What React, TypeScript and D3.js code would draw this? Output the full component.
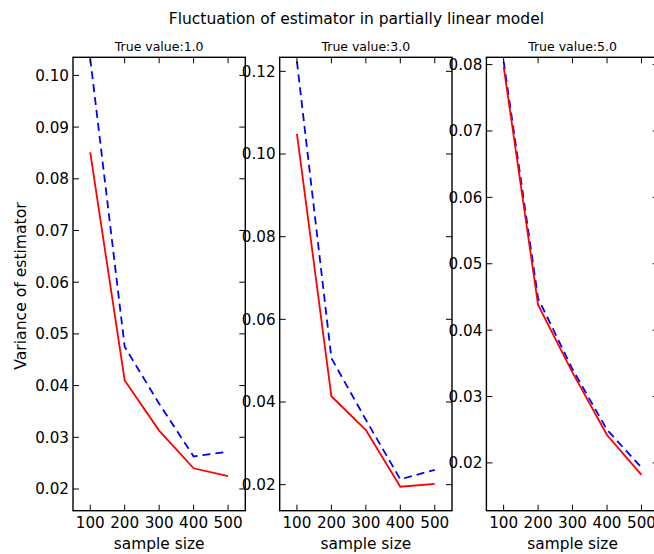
import * as d3 from 'd3';
import React, { useEffect, useRef } from 'react';

const sampleSizes = [100, 200, 300, 400, 500];
const xTicks = [100, 200, 300, 400, 500];

const titles = ['True value:1.0', 'True value:3.0', 'True value:5.0'];

// dashed blue series, solid red series, per panel
const blue1 = [0.1033, 0.0475, 0.0365, 0.0263, 0.0272];
const red1 = [0.0851, 0.041, 0.0313, 0.024, 0.0225];
const blue2 = [0.1224, 0.0506, 0.0357, 0.0213, 0.0236];
const red2 = [0.1049, 0.0414, 0.0332, 0.0195, 0.0202];
const blue3 = [0.0805, 0.0448, 0.0341, 0.025, 0.0193];
const red3 = [0.0797, 0.0438, 0.0336, 0.0242, 0.0182];

const yTicks1 = [0.02, 0.03, 0.04, 0.05, 0.06, 0.07, 0.08, 0.09, 0.1];
const yTicks2 = [0.02, 0.04, 0.06, 0.08, 0.1, 0.12];
const yTicks3 = [0.02, 0.03, 0.04, 0.05, 0.06, 0.07, 0.08];

const yLimits = [
  [0.0158, 0.1035],
  [0.0137, 0.1234],
  [0.0128, 0.0811],
];

const W = 654;
const H = 554;
const FONT = 'DejaVu Sans, sans-serif';

const App = () => {
  const ref = useRef(null);

  useEffect(() => {
    const svg = d3.select(ref.current);
    svg.selectAll('*').remove();

    const panels = [
      { blue: blue1, red: red1, ticks: yTicks1 },
      { blue: blue2, red: red2, ticks: yTicks2 },
      { blue: blue3, red: red3, ticks: yTicks3 },
    ];

    const top = 57.3;
    const bottom = 510.7;
    const pw = 172.3;
    const step = 206.7;
    const left0 = 73;
    const tl = 6;

    svg.append('rect').attr('width', W).attr('height', H).attr('fill', 'white');

    svg.append('text')
      .attr('x', 356.4)
      .attr('y', 24)
      .attr('text-anchor', 'middle')
      .style('font-family', FONT)
      .style('font-size', '15.5px')
      .text('Fluctuation of estimator in partially linear model');

    panels.forEach((p, i) => {
      const left = left0 + i * step;
      const right = left + pw;
      const x = d3.scaleLinear().domain([50, 550]).range([left, right]);
      const y = d3.scaleLinear().domain(yLimits[i]).range([bottom, top]);

      const g = svg.append('g');
      g.append('rect')
        .attr('x', left).attr('y', top)
        .attr('width', pw).attr('height', bottom - top)
        .attr('fill', 'white');

      const clipId = `clip${i}`;
      g.append('clipPath').attr('id', clipId)
        .append('rect')
        .attr('x', left).attr('y', top)
        .attr('width', pw).attr('height', bottom - top);

      const line = d3.line()
        .x((d, k) => x(sampleSizes[k]))
        .y(d => y(d));

      const plot = g.append('g').attr('clip-path', `url(#${clipId})`);
      plot.append('path')
        .attr('d', line(p.blue))
        .attr('fill', 'none')
        .attr('stroke', '#0000ff')
        .attr('stroke-width', 1.8)
        .attr('stroke-dasharray', '8,5');
      plot.append('path')
        .attr('d', line(p.red))
        .attr('fill', 'none')
        .attr('stroke', '#ff0000')
        .attr('stroke-width', 1.8);

      // ticks on all four sides, pointing inward
      xTicks.forEach(t => {
        g.append('line').attr('x1', x(t)).attr('x2', x(t))
          .attr('y1', bottom).attr('y2', bottom - tl)
          .attr('stroke', 'black').attr('stroke-width', 1);
        g.append('line').attr('x1', x(t)).attr('x2', x(t))
          .attr('y1', top).attr('y2', top + tl)
          .attr('stroke', 'black').attr('stroke-width', 1);
        g.append('text')
          .attr('x', x(t)).attr('y', bottom + 17)
          .attr('text-anchor', 'middle')
          .style('font-family', FONT)
          .style('font-size', '15.2px')
          .text(t);
      });
      p.ticks.forEach(t => {
        g.append('line').attr('x1', left).attr('x2', left + tl)
          .attr('y1', y(t)).attr('y2', y(t))
          .attr('stroke', 'black').attr('stroke-width', 1);
        g.append('line').attr('x1', right).attr('x2', right - tl)
          .attr('y1', y(t)).attr('y2', y(t))
          .attr('stroke', 'black').attr('stroke-width', 1);
        g.append('text')
          .attr('x', left - 4).attr('y', y(t))
          .attr('dy', '0.36em')
          .attr('text-anchor', 'end')
          .style('font-family', FONT)
          .style('font-size', '15.2px')
          .text(d3.format('.2f')(t));
      });

      g.append('rect')
        .attr('x', left).attr('y', top)
        .attr('width', pw).attr('height', bottom - top)
        .attr('fill', 'none')
        .attr('stroke', 'black')
        .attr('stroke-width', 1.4);

      g.append('text')
        .attr('x', (left + right) / 2)
        .attr('y', top - 6)
        .attr('text-anchor', 'middle')
        .style('font-family', FONT)
        .style('font-size', '12.5px')
        .text(titles[i]);

      g.append('text')
        .attr('x', (left + right) / 2)
        .attr('y', 549)
        .attr('text-anchor', 'middle')
        .style('font-family', FONT)
        .style('font-size', '15.4px')
        .text('sample size');
    });

    svg.append('text')
      .attr('transform', `translate(26,286) rotate(-90)`)
      .attr('text-anchor', 'middle')
      .style('font-family', FONT)
      .style('font-size', '15.6px')
      .text('Variance of estimator');
  }, []);

  return (
    <svg ref={ref} width={W} height={H} style={{ position: 'absolute', left: 0, top: 0 }}></svg>
  );
};

export default App;
